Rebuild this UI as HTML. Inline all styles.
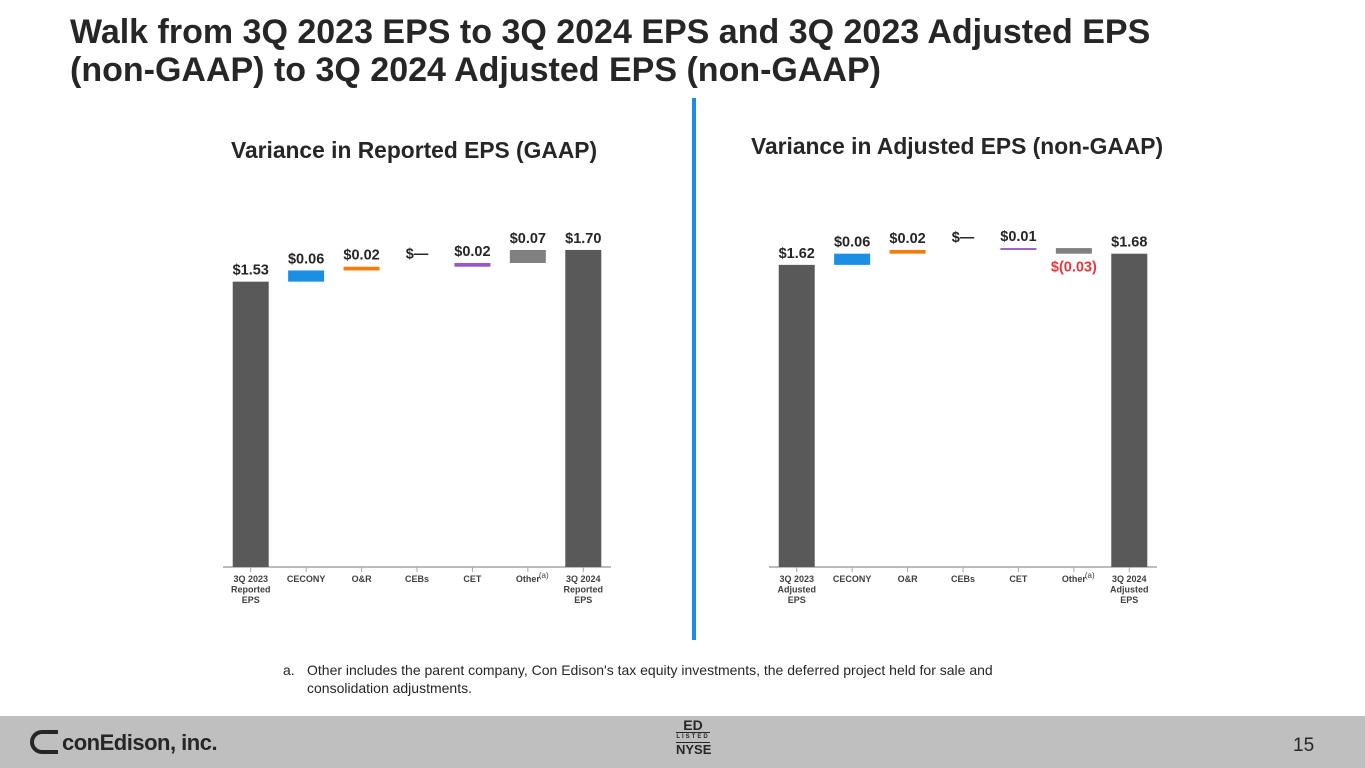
<!DOCTYPE html>
<html><head><meta charset="utf-8"><style>
body{margin:0;width:1365px;height:768px;overflow:hidden;background:#fff;font-family:"Liberation Sans",Arial,sans-serif;position:relative}
.t{position:absolute;left:70px;top:13px;font-size:34px;font-weight:bold;color:#262626;line-height:38px;margin:0;white-space:nowrap}
.st{position:absolute;font-size:22.8px;font-weight:bold;color:#262626;white-space:nowrap}
.foot{position:absolute;left:0;top:716px;width:1365px;height:52px;background:#bfbfbf}
.note{position:absolute;left:283px;top:661px;font-size:14px;color:#262626;line-height:18px;white-space:nowrap}
</style></head><body>
<h1 class="t">Walk from 3Q 2023 EPS to 3Q 2024 EPS and 3Q 2023 Adjusted EPS<br>(non-GAAP) to 3Q 2024 Adjusted EPS (non-GAAP)</h1>
<div class="st" style="left:231px;top:137px">Variance in Reported EPS (GAAP)</div>
<div class="st" style="left:751px;top:133px">Variance in Adjusted EPS (non-GAAP)</div>
<div style="position:absolute;left:692px;top:98px;width:4px;height:542px;background:#1e8be0"></div>
<svg id="chart" width="1365" height="768" style="position:absolute;left:0;top:0"></svg>
<div class="note"><span style="display:inline-block;width:24px">a.</span>Other includes the parent company, Con Edison's tax equity investments, the deferred project held for sale and<br><span style="display:inline-block;width:24px"></span>consolidation adjustments.</div>
<div class="foot">
<div style="position:absolute;left:30px;top:14px;font-size:22px;font-weight:bold;color:#262626;letter-spacing:-0.5px"><span style="display:inline-block;width:28px;height:24px;border:4px solid #262626;border-right:none;border-radius:14px 0 0 14px;box-sizing:border-box;vertical-align:-4px;margin-right:4px"></span>conEdison, inc.</div>
<div style="position:absolute;left:676px;top:2px;width:34px;text-align:center;color:#262626;font-weight:bold"><div style="font-size:14px;line-height:14px">ED</div><div style="font-size:6px;line-height:9px;border-top:1px solid #262626;border-bottom:1px solid #262626;letter-spacing:2px">LISTED</div><div style="font-size:13px;line-height:14px">NYSE</div></div>
<div style="position:absolute;left:1293px;top:19px;font-size:19px;color:#262626">15</div>
</div>
<script>
const catsL=["3Q 2023|Reported|EPS","CECONY","O&R","CEBs","CET","Other","3Q 2024|Reported|EPS"];
const valsL=[1.53,0.06,0.02,0,0.02,0.07,1.70];
const labelsL=["$1.53","$0.06","$0.02","$—","$0.02","$0.07","$1.70"];
const catsR=["3Q 2023|Adjusted|EPS","CECONY","O&R","CEBs","CET","Other","3Q 2024|Adjusted|EPS"];
const valsR=[1.62,0.06,0.02,0,0.01,-0.03,1.68];
const labelsR=["$1.62","$0.06","$0.02","$—","$0.01","$(0.03)","$1.68"];
const colors=["#595959","#1a8fe3","#f47c0e","#595959","#9b55c8","#808080","#595959"];
const NS="http://www.w3.org/2000/svg";
const svg=document.getElementById('chart');
function mk(t,a){const e=document.createElementNS(NS,t);for(const k in a)e.setAttribute(k,a[k]);svg.appendChild(e);return e;}
function draw(cats,vals,labels,x0,x1,tag){
 const base=567,scale=186.5;
 const y=v=>base-v*scale;
 const step=(x1-x0)/cats.length;
 const cx=i=>x0+step*(i+0.5);
 const ax=mk('line',{x1:x0,x2:x1,y1:base,y2:base,stroke:'#a6a6a6','stroke-width':1.5});
 
 
 let run=0,prevLy=0;
 cats.forEach((c,i)=>{
  const v=vals[i];let top,bot;
  if(i===0||i===cats.length-1){top=y(v);bot=base;run=v;}
  else{const a=run,b=run+v;top=y(Math.max(a,b));bot=y(Math.min(a,b));run=b;}
  const w=36;
  const tk=mk('line',{x1:cx(i),x2:cx(i),y1:base,y2:base+5,stroke:'#a6a6a6'});
  
  
  if(v!==0){
   const r=mk('rect',{x:cx(i)-w/2,y:top,width:w,height:Math.max(bot-top,1.5),fill:colors[i]});
   
   
  }
  const neg=v<0;
  const ly=neg?bot+18:(v===0?prevLy-1:top-7);
  prevLy=ly;
  const t=mk('text',{x:cx(i),y:ly,'text-anchor':'middle','font-size':14.5,'font-weight':'bold',fill:neg?'#e8373f':'#262626','font-family':'Liberation Sans, sans-serif'});
  t.textContent=labels[i];
  
  
  c.split('|').forEach((ln,j)=>{
   const tt=mk('text',{x:cx(i),y:base+15+j*10.5,'text-anchor':'middle','font-size':9,'font-weight':'bold',fill:'#404040','font-family':'Liberation Sans, sans-serif'});
   tt.textContent=ln;
   
   
  });
  if(c==='Other'){const s=mk('text',{x:cx(i)+11,y:base+11,'font-size':8,fill:'#404040','font-family':'Liberation Sans, sans-serif'});s.textContent='(a)';
   
   }
 });
}
draw(catsL,valsL,labelsL,223,611,'reported');
draw(catsR,valsR,labelsR,769,1157,'adjusted');
</script>
</body></html>
